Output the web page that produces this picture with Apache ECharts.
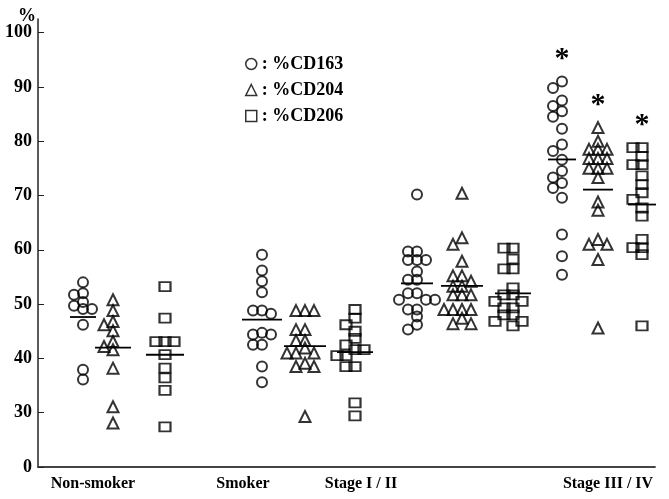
<!DOCTYPE html>
<html>
<head>
<meta charset="utf-8">
<script src="https://cdn.jsdelivr.net/npm/echarts@6/dist/echarts.min.js"></script>
<style>
  html, body { margin: 0; padding: 0; background: #fff; }
  #chart { width: 669px; height: 499px; }
</style>
</head>
<body>
<div id="chart"></div>
<script>
const groups = ['Non-smoker', 'Smoker', 'Stage I / II', 'Stage III / IV']

// values (%) per group
const cd163 = [
  [54.0, 52.0, 51.7, 50.4, 49.7, 49.1, 49.1, 46.2, 37.9, 36.1],
  [59.1, 56.2, 54.2, 52.2, 48.8, 48.2, 48.8, 44.4, 44.7, 44.4, 42.5, 42.5, 38.5, 35.6],
  [70.2, 59.7, 59.7, 58.1, 58.1, 58.1, 56.0, 54.5, 54.5, 52.0, 52.0, 50.8, 50.8, 50.8, 49.0, 49.0, 47.7, 46.2, 45.3],
  [91.0, 89.8, 87.5, 86.5, 85.5, 84.5, 82.3, 79.4, 78.2, 76.6, 74.5, 73.3, 72.3, 71.4, 69.6, 62.8, 58.8, 55.4]
]
const cd204 = [
  [50.8, 48.8, 46.8, 46.2, 45.1, 43.1, 42.2, 41.6, 38.2, 31.1, 28.1],
  [48.8, 48.8, 48.8, 45.3, 45.3, 43.3, 43.3, 41.9, 41.0, 41.0, 41.0, 39.1, 38.5, 38.5, 29.3],
  [70.4, 62.2, 61.0, 57.9, 55.2, 55.2, 54.2, 53.3, 53.3, 51.7, 51.7, 51.7, 49.0, 49.0, 49.0, 49.0, 47.4, 46.4, 46.4],
  [82.5, 80.0, 78.5, 78.5, 78.5, 76.8, 76.8, 76.8, 75.0, 75.0, 75.0, 73.3, 68.8, 67.3, 61.9, 61.0, 61.0, 58.2, 45.6]
]
const cd206 = [
  [53.2, 47.4, 43.1, 43.1, 43.1, 40.7, 38.2, 36.4, 34.1, 27.4],
  [49.0, 47.4, 46.2, 45.0, 43.7, 42.5, 41.6, 41.6, 40.5, 40.5, 38.5, 38.5, 31.8, 29.4],
  [60.3, 60.3, 58.3, 56.5, 56.5, 53.0, 51.7, 51.7, 50.5, 50.5, 49.3, 49.3, 48.0, 48.0, 46.8, 46.8, 46.0],
  [78.8, 78.8, 77.2, 75.7, 75.7, 73.6, 72.0, 70.5, 69.3, 67.7, 66.2, 61.9, 60.4, 60.4, 59.1, 46.0]
]
const yTicks = [20, 30, 40, 50, 60, 70, 80, 90, 100]
const significant = [false, false, false, true] // * marks

// layout (x axis runs in pixels across the plot)
const colX = [[45, 75, 127], [224, 267, 317], [379, 424, 475], [524, 560, 604]]
const lineW = [[26, 36, 38], [40, 42, 36], [32, 42, 36], [28, 30, 28]]
const labelX = [55, 205, 323, 570]
const pxPerUnit = 448 / 82.5
const step = 9
const font = 'Liberation Serif'

function swarm(values, cx) {
  const placed = []
  values.slice().sort((a, b) => b - a).forEach((v) => {
    for (let k = 0; k < 30; k++) {
      const off = k === 0 ? 0 : (k % 2 ? -1 : 1) * Math.ceil(k / 2) * step
      const x = cx + off
      const hit = placed.some((p) => Math.abs(p[0] - x) < step - 0.5 && Math.abs(p[1] - v) * pxPerUnit < 7)
      if (!hit) {
        placed.push([x, v])
        break
      }
    }
  })
  return placed
}

const mean = (arr) => arr.reduce((s, v) => s + v, 0) / arr.length
const sets = [cd163, cd204, cd206]

const lineData = []
const starData = []
sets.forEach((set, s) => {
  set.forEach((vals, g) => {
    lineData.push([colX[g][s], mean(vals), lineW[g][s]])
    if (significant[g]) starData.push([colX[g][s], Math.max(...vals)])
  })
})

const markerStyle = { color: 'transparent', borderColor: '#000', borderWidth: 2 }

function pointSeries(name, set, symbol, size) {
  return {
    name,
    type: 'scatter',
    symbol,
    symbolSize: size,
    itemStyle: markerStyle,
    data: set.flatMap((vals, g) => swarm(vals, colX[g][sets.indexOf(set)])),
    z: 3
  }
}

const chart = echarts.init(document.getElementById('chart'))
chart.setOption({
  animation: false,
  title: {
    text: '%',
    left: 13,
    top: 2,
    textStyle: { fontFamily: font, fontSize: 18, fontWeight: 'bold', color: '#000' }
  },
  legend: {
    orient: 'vertical',
    left: 240,
    top: 50,
    itemWidth: 11,
    itemHeight: 11,
    itemGap: 8,
    data: ['%CD163', '%CD204', '%CD206'],
    formatter: (name) => ': ' + name,
    itemStyle: { color: 'transparent', borderColor: '#000', borderWidth: 1.5 },
    textStyle: { fontFamily: font, fontSize: 18, fontWeight: 'bold', color: '#000', lineHeight: 18 }
  },
  grid: { left: 38, right: 14, top: 19, bottom: 32, outerBoundsMode: 'none' },
  xAxis: {
    type: 'value',
    min: 0,
    max: 617,
    splitLine: { show: false },
    axisTick: { show: false },
    axisLine: { lineStyle: { color: '#444', width: 1.8 } },
    axisLabel: {
      customValues: labelX,
      formatter: (v) => groups[labelX.indexOf(v)],
      margin: 9,
      fontFamily: font,
      fontSize: 16,
      fontWeight: 'bold',
      color: '#000'
    }
  },
  yAxis: {
    type: 'value',
    min: 20,
    max: 102.5,
    splitLine: { show: false },
    axisLine: { show: true, lineStyle: { color: '#222', width: 1.5 } },
    axisTick: { show: true, inside: true, length: 6, customValues: yTicks, lineStyle: { color: '#222' } },
    axisLabel: {
      customValues: yTicks,
      formatter: (v) => (v === 20 ? '0' : String(v)),
      margin: 6,
      fontFamily: font,
      fontSize: 18,
      fontWeight: 'bold',
      color: '#000'
    }
  },
  series: [
    pointSeries('%CD163', cd163, 'circle', 10),
    pointSeries('%CD204', cd204, 'triangle', 11),
    pointSeries('%CD206', cd206, 'rect', [11, 9]),
    {
      type: 'custom',
      silent: true,
      data: lineData,
      renderItem: (params, api) => {
        const a = api.coord([api.value(0) - api.value(2) / 2, api.value(1)])
        const b = api.coord([api.value(0) + api.value(2) / 2, api.value(1)])
        return {
          type: 'line',
          shape: { x1: a[0], y1: a[1], x2: b[0], y2: b[1] },
          style: { stroke: '#000', lineWidth: 1.8 }
        }
      },
      z: 4
    },
    {
      type: 'custom',
      silent: true,
      data: starData,
      renderItem: (params, api) => {
        const p = api.coord([api.value(0), api.value(1)])
        return {
          type: 'text',
          x: p[0],
          y: p[1] - 22,
          style: {
            text: '*',
            fill: '#000',
            font: 'bold 30px ' + font,
            textAlign: 'center',
            textVerticalAlign: 'middle'
          }
        }
      },
      z: 4
    }
  ]
})
</script>
</body>
</html>
